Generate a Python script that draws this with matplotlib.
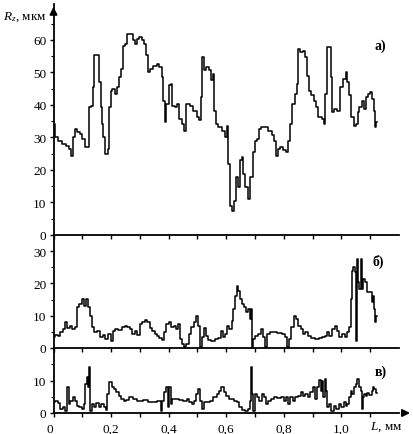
import numpy as np
import matplotlib
matplotlib.use('Agg')
import matplotlib.pyplot as plt

plt.rcParams['font.family'] = ['Liberation Serif', 'DejaVu Serif']
plt.rcParams['mathtext.fontset'] = 'custom'
plt.rcParams['mathtext.rm'] = 'Liberation Serif'
plt.rcParams['mathtext.it'] = 'Liberation Serif:italic'

# panel a) - Rz along L
L_a = [0.0, 0.011, 0.023, 0.034, 0.051, 0.06, 0.065, 0.069, 0.077, 0.086, 0.098, 0.103,
       0.113, 0.121, 0.127, 0.133, 0.138, 0.144, 0.156, 0.161, 0.167, 0.171, 0.175, 0.185,
       0.193, 0.196, 0.2, 0.208, 0.217, 0.225, 0.231, 0.24, 0.245, 0.252, 0.26, 0.272,
       0.277, 0.286, 0.294, 0.303, 0.312, 0.318, 0.324, 0.329, 0.341, 0.352, 0.364, 0.372,
       0.379, 0.385, 0.387, 0.395, 0.405, 0.41, 0.416, 0.425, 0.433, 0.442, 0.451, 0.457,
       0.465, 0.48, 0.491, 0.503, 0.509, 0.515, 0.517, 0.526, 0.535, 0.543, 0.553, 0.557,
       0.561, 0.567, 0.578, 0.59, 0.599, 0.605, 0.608, 0.615, 0.622, 0.63, 0.638, 0.645,
       0.65, 0.657, 0.662, 0.668, 0.68, 0.688, 0.696, 0.706, 0.711, 0.717, 0.723, 0.738,
       0.752, 0.763, 0.769, 0.775, 0.784, 0.792, 0.804, 0.812, 0.819, 0.827, 0.833, 0.842,
       0.847, 0.852, 0.862, 0.87, 0.877, 0.885, 0.891, 0.9, 0.908, 0.914, 0.925, 0.937,
       0.943, 0.946, 0.951, 0.96, 0.966, 0.969, 0.977, 0.989, 1.0, 1.012, 1.018, 1.024,
       1.029, 1.039, 1.047, 1.055, 1.058, 1.067, 1.073, 1.082, 1.087, 1.096, 1.105, 1.11,
       1.116, 1.12, 1.122]
Rz_a = [34.2, 30, 29, 28, 27.5, 26.5, 24.4, 30, 32.6, 31.6, 31, 29.5,
        27, 27, 39.3, 39.8, 45.4, 55.2, 55.2, 47, 39.3, 34, 30, 25,
        26.5, 39.3, 44.4, 45, 43.4, 45.4, 48.5, 51, 58.2, 58.8, 61.8, 61.8,
        60, 58.8, 60.3, 60.8, 60, 58.8, 55.2, 50, 51, 52, 52.6, 51.6,
        48.5, 41.3, 34.7, 40.3, 46, 46.5, 39.8, 39.3, 40.3, 35.7, 34.2, 32.1,
        40.3, 39.8, 38.2, 36.2, 35.2, 42.4, 54.7, 50.6, 51.6, 50.6, 47.5, 49.5,
        38.2, 34.2, 33.1, 32.1, 30, 33.6, 21.8, 9, 7.5, 10.6, 17.8, 14.7,
        22.9, 23.9, 18.8, 14.7, 11, 17.8, 25.4, 29, 29.5, 32.6, 33.1, 33.1,
        32.1, 30.6, 29, 24.4, 26.5, 27, 26, 25.4, 29, 34.2, 40.3, 43.4,
        46.5, 57.2, 56.2, 56.7, 54.7, 49, 44.4, 42.9, 41.3, 39.3, 36.2, 35.7,
        34.2, 43.4, 57.8, 57.8, 48.5, 37.8, 38.8, 38.2, 45.4, 48, 50, 47,
        42.9, 36.2, 33.6, 34.2, 37.8, 39.3, 41.3, 38.8, 42.4, 43.4, 43.9, 41.8,
        38.2, 33.1, 34.7]

# panel б)
L_b = [0.002, 0.011, 0.02, 0.028, 0.036, 0.043, 0.052, 0.06, 0.069, 0.078, 0.086, 0.094,
       0.101, 0.109, 0.117, 0.124, 0.13, 0.136, 0.144, 0.156, 0.167, 0.175, 0.185, 0.194,
       0.202, 0.21, 0.219, 0.231, 0.242, 0.252, 0.26, 0.268, 0.277, 0.286, 0.295, 0.303,
       0.312, 0.321, 0.329, 0.339, 0.347, 0.356, 0.364, 0.372, 0.379, 0.387, 0.395, 0.404,
       0.414, 0.422, 0.43, 0.437, 0.442, 0.449, 0.457, 0.465, 0.474, 0.483, 0.491, 0.499,
       0.507, 0.511, 0.518, 0.526, 0.532, 0.541, 0.555, 0.567, 0.578, 0.584, 0.59, 0.599,
       0.607, 0.615, 0.622, 0.627, 0.633, 0.639, 0.645, 0.65, 0.657, 0.665, 0.673, 0.68,
       0.685, 0.689, 0.691, 0.696, 0.705, 0.715, 0.723, 0.731, 0.74, 0.746, 0.757, 0.769,
       0.786, 0.798, 0.807, 0.812, 0.821, 0.831, 0.839, 0.847, 0.854, 0.862, 0.87, 0.879,
       0.888, 0.902, 0.914, 0.928, 0.937, 0.946, 0.954, 0.962, 0.972, 0.981, 0.989, 0.997,
       1.006, 1.016, 1.024, 1.03, 1.035, 1.039, 1.043, 1.048, 1.052, 1.055, 1.06, 1.064,
       1.07, 1.074, 1.078, 1.085, 1.093, 1.101, 1.108, 1.113, 1.116, 1.12, 1.122]
Rz_b = [3.3, 4, 3.6, 4.9, 5.9, 7.9, 6.1, 6.9, 5.9, 6.4, 12.6, 13.6,
        15.2, 13.1, 15.2, 12.6, 10, 6.4, 4.9, 5.4, 3.3, 4, 2.8, 4.3,
        2.3, 5.4, 5.9, 5.7, 6.4, 6.9, 6.4, 5.9, 4.3, 5.4, 4, 7.4,
        7.9, 8.8, 8.2, 6.1, 5.4, 4.3, 3.6, 3, 2.6, 4.9, 7.4, 7.9,
        6.4, 6.9, 5.9, 7.4, 2.8, 1.2, 0.2, 1.2, 4.3, 6.4, 7.9, 10,
        6.9, 0.2, 3.3, 6.1, 3.6, 2.6, 2.3, 2.8, 3, 5.4, 3.3, 4.3,
        6.9, 5.9, 8.5, 12.1, 16.2, 19.3, 17.8, 15.2, 13.6, 12.6, 11, 12.1,
        9, 12.1, 0, 2.8, 3.8, 4.3, 5.9, 3.3, 0.2, 4.3, 5.1, 4.9,
        4.6, 4.3, 3.3, 0.2, 2.8, 6.4, 10, 9, 6.9, 5.9, 4.3, 4.9,
        3.6, 3, 2.8, 3, 3.3, 3.8, 4.9, 3.8, 5.9, 6.9, 5.4, 3.3,
        4.3, 3.3, 4.9, 6.4, 15.2, 23.9, 25, 23.4, 2.3, 27.6, 20.3, 18.3,
        27.6, 18.3, 21.4, 20.3, 17.2, 17.2, 14.1, 16.2, 12.1, 7.9, 10]

# panel в)
L_c = [0.002, 0.011, 0.02, 0.028, 0.036, 0.046, 0.051, 0.055, 0.063, 0.071, 0.078, 0.086,
       0.094, 0.104, 0.109, 0.113, 0.117, 0.121, 0.124, 0.127, 0.129, 0.136, 0.144, 0.152,
       0.161, 0.171, 0.179, 0.185, 0.19, 0.198, 0.205, 0.213, 0.222, 0.231, 0.24, 0.248,
       0.256, 0.266, 0.283, 0.3, 0.321, 0.335, 0.352, 0.37, 0.376, 0.381, 0.387, 0.395,
       0.399, 0.404, 0.41, 0.416, 0.428, 0.441, 0.457, 0.468, 0.476, 0.483, 0.491, 0.499,
       0.506, 0.512, 0.518, 0.526, 0.538, 0.549, 0.561, 0.572, 0.58, 0.587, 0.595, 0.604,
       0.613, 0.622, 0.63, 0.642, 0.65, 0.659, 0.671, 0.68, 0.685, 0.687, 0.691, 0.696,
       0.703, 0.711, 0.719, 0.726, 0.734, 0.742, 0.751, 0.761, 0.772, 0.784, 0.796, 0.804,
       0.812, 0.819, 0.827, 0.835, 0.844, 0.854, 0.862, 0.87, 0.879, 0.888, 0.896, 0.905,
       0.912, 0.919, 0.925, 0.931, 0.935, 0.939, 0.944, 0.948, 0.954, 0.962, 0.969, 0.977,
       0.985, 0.995, 1.004, 1.012, 1.018, 1.024, 1.03, 1.035, 1.041, 1.047, 1.053, 1.058,
       1.064, 1.069, 1.072, 1.076, 1.082, 1.087, 1.093, 1.101, 1.108, 1.113, 1.116, 1.122]
Rz_c = [3.3, 3.8, 3, 1.2, 2, 0.7, 7.9, 2.8, 3.8, 4.9, 3.8, 2.3,
        2, 1.2, 2.8, 9, 11, 7.9, 14.1, 6.9, 0.7, 2.8, 1.8, 3,
        2, 2.8, 1.8, 0.9, 5.9, 9.5, 7.9, 7.4, 6.4, 5.4, 4.3, 3.8,
        4, 4.9, 4.3, 3.8, 4, 3.3, 3.3, 3.8, 0.7, 3.8, 6.4, 7.9,
        1.8, 7.9, 2.8, 4.3, 4.3, 4, 3.8, 4.3, 3.3, 2.8, 3.8, 5.9,
        7.4, 3.8, 1.2, 3.3, 3.3, 3.8, 4.9, 5.9, 6.9, 7.9, 6.4, 5.4,
        4.3, 4.3, 3.8, 3.3, 1.8, 0.9, 0.7, 1.2, 3.8, 14.3, 5.9, 0.7,
        5.9, 4.9, 3.8, 5.9, 4.9, 2.8, 3.8, 4.3, 4.9, 4.6, 5.1, 3.8,
        4.9, 2.8, 4.9, 3.8, 4.9, 5.4, 6.4, 5.4, 5.9, 4.9, 6.4, 7.9,
        4.3, 7.9, 10.2, 6.9, 10, 4.9, 10.5, 6.9, 1.8, 2.8, 0.7, 2.3,
        1.2, 2.8, 1.8, 3.3, 2.3, 2.8, 4.9, 6.9, 5.9, 7.9, 9, 10.5,
        7.9, 6.9, 1.2, 4.9, 5.9, 5.4, 6.1, 5.7, 6.9, 7.9, 7.4, 6.1]

x_labels = ['0', '0,2', '0,4', '0,6', '0,8', '1,0']
y_ticks_a = [0, 10, 20, 30, 40, 50, 60]
y_ticks_b = [0, 10, 20, 30]
y_ticks_c = [0, 10]

fig = plt.figure(figsize=(4.13, 4.35), dpi=100)
left = 53.5 / 413
width = (399 - 53.5) / 413
ax1 = fig.add_axes([left, 1 - 236 / 435, width, (236 - 5) / 435])
ax2 = fig.add_axes([left, 1 - 349 / 435, width, (349 - 236) / 435])
ax3 = fig.add_axes([left, 1 - 414 / 435, width, (414 - 349) / 435])

panels = [(ax1, L_a, Rz_a, 71, y_ticks_a, 'а)', (0.93, 0.822)),
          (ax2, L_b, Rz_b, 35, y_ticks_b, 'б)', (0.922, 0.77)),
          (ax3, L_c, Rz_c, 20.1, y_ticks_c, 'в)', (0.93, 0.646))]
for ax, x, y, top, yt, lab, pos in panels:
    ax.plot(x, y, color='black', lw=1.1, drawstyle='steps-mid')
    ax.set_xlim(0, 1.2)
    ax.set_ylim(0, top)
    ax.spines['top'].set_visible(False)
    ax.spines['right'].set_visible(False)
    ax.spines['left'].set_linewidth(1.3)
    ax.spines['bottom'].set_linewidth(1.3)
    ax.set_xticks(np.arange(0, 1.15, 0.1))
    ax.set_xticklabels([])
    ax.set_yticks(yt)
    ax.set_yticks([v + 5 for v in yt if v + 5 < top], minor=True)
    ax.tick_params(axis='x', direction='out', length=3, width=1)
    ax.tick_params(axis='y', which='major', direction='out', length=3, width=1, labelsize=9.5, pad=2)
    ax.tick_params(axis='y', which='minor', direction='out', length=2, width=0.8)
    ax.set_facecolor('none')
    ax.text(pos[0], pos[1], lab, transform=ax.transAxes, fontsize=10, fontweight='bold', va='center')

ax3.set_xticklabels([x_labels[i // 2] if i % 2 == 0 else '' for i in range(12)], fontsize=9.5)
ax3.tick_params(axis='x', pad=4)
ax3.get_xticklabels()[0].set_horizontalalignment('right')

# axis arrows
ax1.annotate('', xy=(0, 1.0), xytext=(0, 0.95), xycoords='axes fraction',
             arrowprops=dict(arrowstyle='-|>', color='black', lw=1.3, mutation_scale=11))
ax3.annotate('', xy=(1.04, 0), xytext=(1.0, 0), xycoords='axes fraction',
             arrowprops=dict(arrowstyle='-|>', color='black', lw=1.3, mutation_scale=11))

fig.text(3 / 413, 1 - 17 / 435, '$R_z$, мкм', fontsize=9.5, va='center')
fig.text(386 / 413, 1 - 427 / 435, '$L$, мм', fontsize=9.5, va='center', ha='center')

fig.savefig('out.png', dpi=100)
